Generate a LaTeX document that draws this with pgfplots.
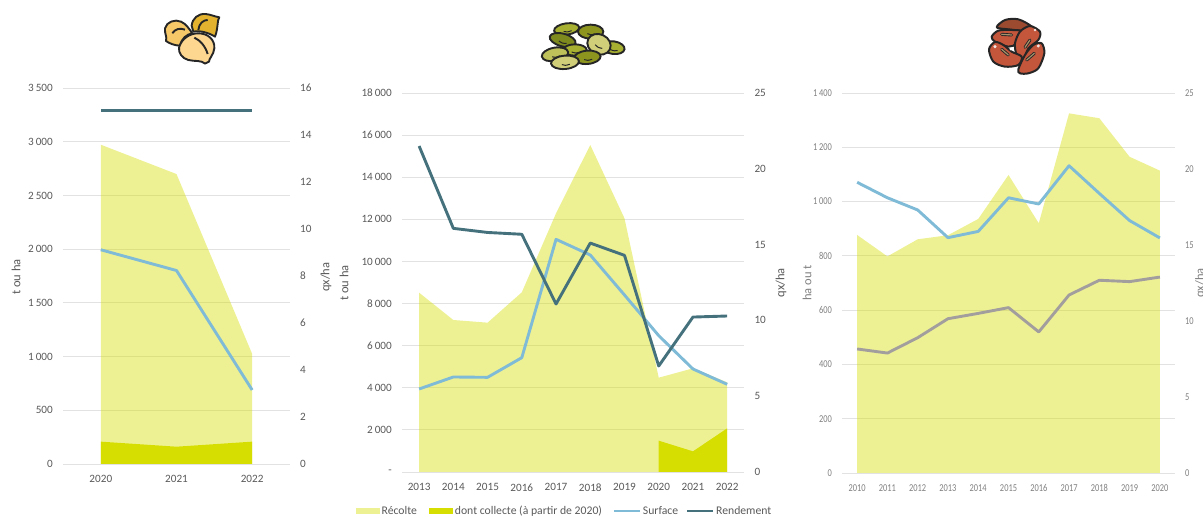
\documentclass[border=0pt]{standalone}
\usepackage{fontspec}
\setmainfont{Carlito}
\newfontfamily\narrowfont[FakeStretch=0.8]{Carlito}
\usepackage{pgfplots}
\pgfplotsset{compat=1.18}

\definecolor{txt}{HTML}{595959}
\definecolor{txtlight}{HTML}{7F7F7F}
\definecolor{gridc}{HTML}{E2E2E2}
\definecolor{recolte}{HTML}{D5DE00}
\definecolor{collecte}{HTML}{D5DE00}
\definecolor{surface}{HTML}{7FBAD6}
\definecolor{rendement}{HTML}{44717C}
\definecolor{rendgris}{HTML}{A39E9E}

% Primary axis: bottom categories, horizontal rules, left scale
\pgfplotsset{
  leftaxis/.style={
    scale only axis, anchor=south west,
    axis y line=left, axis x line=bottom,
    y axis line style={draw=none,-}, x axis line style={draw=gridc,line width=0.9pt,-},
    ymajorgrids, grid style={gridc,line width=0.9pt},
    major tick length=0pt, xtick=data,
    scaled y ticks=false,
    every tick/.style={draw=none},
    tick label style={txt,font=\fontsize{11.2}{11}\selectfont,inner sep=0pt},
    y tick label style={xshift=-10pt,/pgf/number format/1000 sep={\,},/pgf/number format/assume math mode=true},
    x tick label style={yshift=-11.5pt,/pgf/number format/1000 sep={},/pgf/number format/assume math mode=true},
    label style={txt,font=\fontsize{12.5}{12}\selectfont},
  },
  % Secondary axis: right scale only
  rightaxis/.style={
    scale only axis, anchor=south west,
    axis y line*=right, hide x axis,
    y axis line style={draw=none,-},
    major tick length=0pt,
    every tick/.style={draw=none},
    tick label style={txt,font=\fontsize{11.2}{11}\selectfont,inner sep=0pt},
    y tick label style={xshift=10pt,/pgf/number format/assume math mode=true},
    label style={txt,font=\fontsize{12.5}{12}\selectfont},
  },
  harvest/.style={fill=recolte,fill opacity=0.42,draw=none,forget plot},
  collected/.style={fill=collecte,draw=none,forget plot},
  lineS/.style={surface,line width=2.9pt,line join=round,no marks},
  lineR/.style={rendement,line width=2.9pt,line join=round,no marks},
  lineG/.style={rendgris,line width=2.9pt,line join=round,no marks},
}

\newcommand{\lentil}[6]{% x, y, rx, ry, rotation, fill
  \filldraw[fill=#6,draw=black!85,line width=1.9pt,rotate around={#5:(#1,#2)}] (#1,#2) ellipse ({#3*0.3333pt} and {#4*0.3333pt});
  \draw[black!85,line width=1pt,rotate around={#5:(#1,#2)}] (#1-10,#2+6) .. controls (#1,#2+10) .. (#1+14,#2+7);
}

\begin{document}
\begin{tikzpicture}[x=1pt,y=1pt]
\clip (0,0) rectangle (1203,518);
\useasboundingbox (0,0) rectangle (1203,518);

% ----- Pois chiches -----
\begin{axis}[leftaxis,at={(63pt,54pt)},width=227pt,height=376pt,
  xmin=2019.5,xmax=2022.5,ymin=0,ymax=3500,
  ytick={0,500,...,3500},
  ylabel={t ou ha},
  y label style={at={(axis description cs:-0.207,0.497)},anchor=center}]
\addplot[harvest] coordinates {(2020,2972)(2021,2699)(2022,1025)} \closedcycle;
\addplot[collected] coordinates {(2020,208)(2021,161)(2022,208)} \closedcycle;
\addplot[lineS] coordinates {(2020,1994)(2021,1801)(2022,689)};
\end{axis}
\begin{axis}[rightaxis,at={(63pt,54pt)},width=227pt,height=376pt,
  xmin=2019.5,xmax=2022.5,ymin=0,ymax=16,
  ytick={0,2,...,16},
  ylabel={qx/ha},
  y label style={at={(axis description cs:1.159,0.497)},anchor=center}]
\addplot[lineR] coordinates {(2020,15.03)(2021,15.03)(2022,15.03)};
\end{axis}

% ----- Lentilles -----
\begin{axis}[leftaxis,at={(402pt,46pt)},width=342.3pt,height=379pt,
  xmin=2012.5,xmax=2022.5,ymin=0,ymax=18000,
  ytick={0,2000,...,18000},
  yticklabels={-,2\,000,4\,000,6\,000,8\,000,10\,000,12\,000,14\,000,16\,000,18\,000},
  ylabel={t ou ha},
  y label style={at={(axis description cs:-0.169,0.499)},anchor=center}]
\addplot[harvest] coordinates {(2013,8517)(2014,7219)(2015,7092)(2016,8533)(2017,12285)(2018,15530)(2019,12047)(2020,4480)(2021,4923)(2022,4259)} \closedcycle;
\addplot[collected] coordinates {(2020,1488)(2021,981)(2022,2074)} \closedcycle;
\addplot[lineS] coordinates {(2013,3942)(2014,4512)(2015,4496)(2016,5430)(2017,11050)(2018,10306)(2019,8406)(2020,6475)(2021,4892)(2022,4164)};
\end{axis}
\begin{axis}[rightaxis,at={(402pt,46pt)},width=342.3pt,height=379pt,
  xmin=2012.5,xmax=2022.5,ymin=0,ymax=25,
  ytick={0,5,...,25},
  ylabel={qx/ha},
  y label style={at={(axis description cs:1.107,0.499)},anchor=center},
  legend columns=4,
  legend cell align=left,
  legend style={at={(axis description cs:-0.134,-0.103)},anchor=west,draw=none,fill=none,
    inner sep=0pt,outer sep=0pt,
    font=\fontsize{11.7}{11}\selectfont,text=txt,
    /tikz/column 2/.style={column sep=11pt},
    /tikz/column 4/.style={column sep=9pt},
    /tikz/column 6/.style={column sep=6pt},
    nodes={inner sep=1.5pt}}]
\addlegendimage{legend image code/.code={\fill[recolte,fill opacity=0.42,draw=none] (0pt,-3pt) rectangle (24pt,3pt);}}
\addlegendentry{Récolte}
\addlegendimage{legend image code/.code={\fill[collecte,draw=none] (0pt,-3pt) rectangle (24pt,3pt);}}
\addlegendentry{dont collecte (à partir de 2020)}
\addlegendimage{legend image code/.code={\draw[surface,line width=2.9pt] (0pt,0pt)--(26pt,0pt);}}
\addlegendentry{Surface}
\addplot[lineR,legend image code/.code={\draw[rendement,line width=2.9pt] (0pt,0pt)--(26pt,0pt);}] coordinates {(2013,21.5)(2014,16.07)(2015,15.8)(2016,15.68)(2017,11.08)(2018,15.1)(2019,14.29)(2020,6.99)(2021,10.22)(2022,10.29)};
\addlegendentry{Rendement}
\end{axis}

% ----- Haricots rouges -----
\begin{axis}[leftaxis,at={(842pt,45pt)},width=333pt,height=380pt,
  xmin=2009.5,xmax=2020.5,ymin=0,ymax=1400,
  ytick={0,200,...,1400},
  tick label style={txtlight,font=\narrowfont\fontsize{10.5}{10.5}\selectfont},
  label style={txtlight},
  ylabel={ha ou t},
  y label style={at={(axis description cs:-0.105,0.5)},anchor=center}]
\addplot[harvest] coordinates {(2010,877)(2011,798)(2012,861)(2013,876)(2014,936)(2015,1098)(2016,920)(2017,1325)(2018,1307)(2019,1165)(2020,1114)} \closedcycle;
\addplot[lineS] coordinates {(2010,1071)(2011,1014)(2012,969)(2013,867)(2014,890)(2015,1014)(2016,991)(2017,1132)(2018,1030)(2019,930)(2020,866)};
\end{axis}
\begin{axis}[rightaxis,at={(842pt,45pt)},width=333pt,height=380pt,
  xmin=2009.5,xmax=2020.5,ymin=0,ymax=25,
  ytick={0,5,...,25},
  tick label style={txtlight,font=\narrowfont\fontsize{10.5}{10.5}\selectfont},
  label style={txtlight},
  ylabel={qx/ha},
  y label style={at={(axis description cs:1.077,0.5)},anchor=center}]
\addplot[lineG] coordinates {(2010,8.16)(2011,7.89)(2012,8.9)(2013,10.15)(2014,10.5)(2015,10.88)(2016,9.28)(2017,11.71)(2018,12.68)(2019,12.59)(2020,12.89)};
\end{axis}

% ----- Pictogrammes -----
\begin{scope}[shift={(155pt,513pt)},x=0.3333pt,y=-0.3333pt,line width=1.9pt,draw=black!85,line join=round]
  \definecolor{ca}{HTML}{E3B330}\definecolor{cb}{HTML}{F6C868}\definecolor{cc}{HTML}{FDD68F}
  \filldraw[fill=ca] (110,62) .. controls (112,40) and (130,25) .. (152,27) .. controls (165,28) and (180,35) .. (193,37) .. controls (186,45) and (190,70) .. (180,95) .. controls (165,85) and (135,75) .. (115,80) -- cycle;
  \draw (130,75) .. controls (132,55) and (145,45) .. (158,45);
  \filldraw[fill=cb] (30,70) .. controls (35,50) and (60,42) .. (78,50) .. controls (92,55) and (105,75) .. (112,85) .. controls (95,88) and (80,100) .. (75,122) .. controls (60,122) and (42,115) .. (33,108) .. controls (37,95) and (28,85) .. (30,70) -- cycle;
  \draw (52,85) .. controls (60,72) and (75,68) .. (90,74);
  \filldraw[fill=cc] (72,128) .. controls (80,100) and (105,85) .. (130,85) .. controls (160,85) and (180,105) .. (178,130) .. controls (176,150) and (162,160) .. (162,170) -- (150,176) .. controls (140,165) and (120,170) .. (100,165) .. controls (82,160) and (70,145) .. (72,128) -- cycle;
  \draw (118,98) .. controls (135,105) and (152,125) .. (158,147);
\end{scope}

\begin{scope}[shift={(530pt,503pt)},x=0.3333pt,y=-0.3333pt]
  \definecolor{la}{HTML}{A8B032}\definecolor{lb}{HTML}{8E951E}\definecolor{lc}{HTML}{7F8A1E}
  \definecolor{ld}{HTML}{BEC05A}\definecolor{le}{HTML}{D0CE78}
  \lentil{110}{42}{38}{17}{8}{la}
  \lentil{182}{50}{38}{21}{0}{lb}
  \lentil{250}{98}{34}{19}{-8}{la}
  \lentil{98}{75}{40}{19}{-15}{lc}
  \lentil{135}{105}{35}{17}{0}{la}
  \lentil{75}{118}{40}{20}{10}{ld}
  \lentil{207}{88}{36}{30}{-25}{le}
  \lentil{172}{127}{40}{20}{5}{lb}
  \lentil{105}{142}{42}{20}{5}{le}
\end{scope}

\begin{scope}[shift={(975pt,508pt)},x=0.3333pt,y=-0.3333pt,line width=2pt,line join=round]
  \definecolor{ra}{HTML}{9C4A30}\definecolor{rb}{HTML}{C4563C}\definecolor{rs}{HTML}{A8906A}
  \filldraw[fill=ra,draw=black!85] plot[smooth cycle] coordinates {(65,52)(90,30)(130,28)(170,50)(150,62)(100,58)};
  \filldraw[fill=rb,draw=black!85] plot[smooth cycle] coordinates {(50,80)(70,62)(110,60)(140,65)(125,100)(100,110)(60,95)};
  \filldraw[fill=rb,draw=black!85] plot[smooth cycle] coordinates {(120,100)(135,65)(165,48)(195,65)(190,90)(160,115)(145,150)(125,135)};
  \filldraw[fill=rb,draw=black!85] plot[smooth cycle] coordinates {(42,118)(60,96)(85,105)(110,125)(140,140)(130,165)(90,170)(55,155)};
  \filldraw[fill=rb,draw=black!85] plot[smooth cycle] coordinates {(130,178)(150,135)(175,105)(200,100)(208,130)(190,175)(160,190)(135,190)};
  \foreach \a/\b/\c/\d in {80/73/110/75,150/112/165/90,80/118/100/135,155/150/178/130}{
    \draw[black!85,line width=3pt,line cap=round] (\a,\b) -- (\c,\d);
    \draw[rs,line width=1.2pt,line cap=round] (\a,\b) -- (\c,\d);
  }
  \fill[white!85!rb] (60,110) circle (5) (180,60) circle (4) (190,108) circle (5);
  \fill[white] (108,118) circle (4);
\end{scope}
\end{tikzpicture}
\end{document}
